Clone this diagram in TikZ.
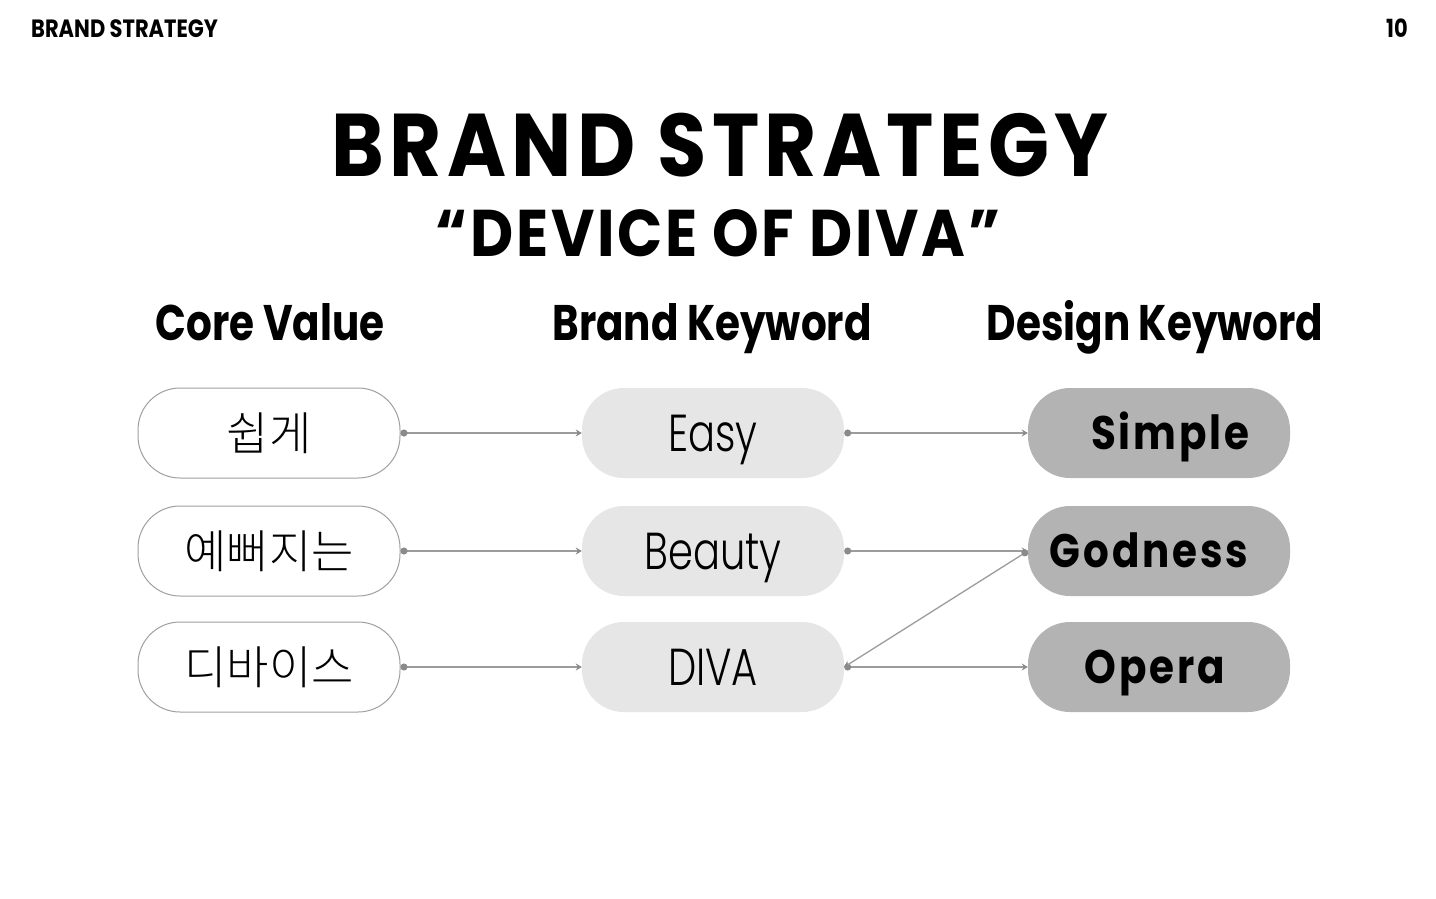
\documentclass[tikz,border=0pt]{standalone}
\usepackage{fontspec}
\setmainfont{Poppins}
\newfontfamily\popl{Poppins Light}
\newfontfamily\kr{Noto Sans CJK KR Light}
\usetikzlibrary{arrows.meta}
\definecolor{lineg}{HTML}{9C9C9C}
\definecolor{dotg}{HTML}{8A8A8A}
\definecolor{midfill}{HTML}{E6E6E6}
\definecolor{rightfill}{HTML}{B3B3B3}
\definecolor{leftdraw}{HTML}{A0A0A0}
\tikzset{
  pill/.style={rounded corners=42pt, minimum width=262pt, minimum height=90pt, inner sep=0pt, align=center},
  leftbox/.style={pill, draw=leftdraw, line width=1pt, fill=white, font=\kr\fontsize{46}{50}\selectfont, text height=34.5pt, text depth=0pt},
  midbox/.style={pill, fill=midfill, font=\popl\fontsize{52}{56}\selectfont\addfontfeatures{FakeStretch=0.77}, text height=36.3pt, text depth=0pt},
  rightbox/.style={pill, fill=rightfill, font=\bfseries\fontsize{47}{50}\selectfont\addfontfeatures{LetterSpace=6,FakeStretch=0.86}, text height=32.8pt, text depth=0pt},
  conn/.style={draw=lineg, line width=1.3pt, {Circle[length=7pt,color=dotg]}-{Stealth[length=6pt,width=7pt,color=dotg]}},
  heading/.style={font=\bfseries\fontsize{50}{54}\selectfont\addfontfeatures{FakeStretch=0.81}, anchor=base},
}
\begin{document}
\begin{tikzpicture}[x=1pt,y=-1pt]
\useasboundingbox (0,0) rectangle (1436,898);
\fill[white] (0,0) rectangle (1436,898);
% header
\node[anchor=base west, inner sep=0pt, font=\bfseries\fontsize{25}{28}\selectfont\addfontfeatures{FakeStretch=0.84}] (hdr) at (31,37) {BRAND STRATEGY};
\node[anchor=base east, inner sep=0pt, font=\bfseries\fontsize{25}{28}\selectfont\addfontfeatures{FakeStretch=0.84}] (pg) at (1408,37) {10};
% title
\node[anchor=base, inner sep=0pt, font=\bfseries\fontsize{89}{96}\selectfont\addfontfeatures{LetterSpace=6,FakeStretch=0.9}] (title) at (720,176) {BRAND STRATEGY};
\node[anchor=base, inner sep=0pt, font=\bfseries\fontsize{66}{72}\selectfont\addfontfeatures{LetterSpace=4,FakeStretch=0.9}] (sub) at (718,256) {“DEVICE OF DIVA”};
% column headings
\node[heading, inner sep=0pt] (h1) at (270,340) {Core Value};
\node[heading, inner sep=0pt] (h2) at (712,340) {Brand Keyword};
\node[heading, inner sep=0pt] (h3) at (1155,340) {Design Keyword};
% boxes
\node[leftbox] (l1) at (269,433) {쉽게};
\node[leftbox] (l2) at (269,551) {예뻐지는};
\node[leftbox] (l3) at (269,667) {디바이스};
\node[midbox] (m1) at (713,433) {Easy};
\node[midbox] (m2) at (713,551) {Beauty};
\node[midbox] (m3) at (713,667) {DIVA};
\node[rightbox] (r1) at (1159,433) {\hspace*{22pt}Simple};
\node[rightbox] (r2) at (1159,551) {Godness\hspace*{20pt}};
\node[rightbox] (r3) at (1159,667) {Opera\hspace*{8pt}};
% connectors
\draw[conn] (l1.east) -- (m1.west);
\draw[conn] (l2.east) -- (m2.west);
\draw[conn] (l3.east) -- (m3.west);
\draw[conn] (m1.east) -- (r1.west);
\draw[conn] (m2.east) -- (r2.west);
\draw[conn] (m3.east) -- (r3.west);
\draw[conn] (r2.west) -- (m3.east);
\end{tikzpicture}
\end{document}
